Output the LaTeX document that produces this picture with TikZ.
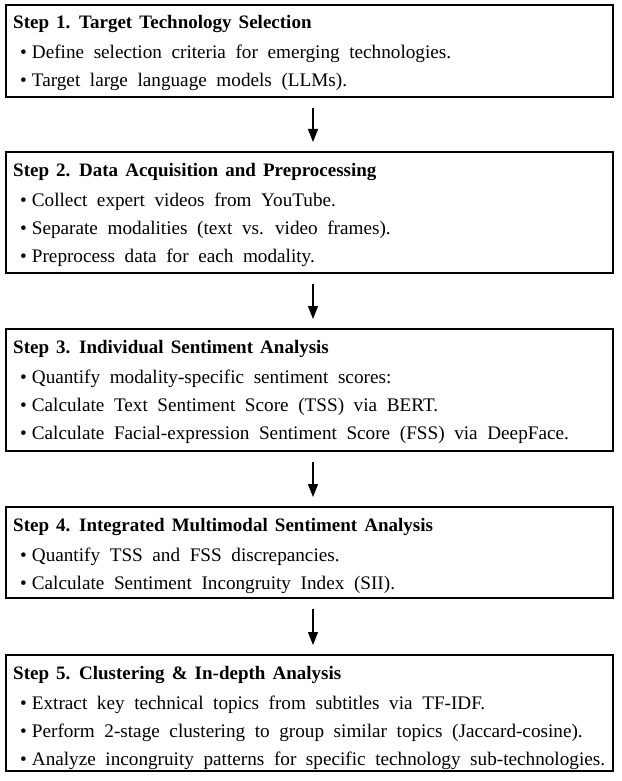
\documentclass[tikz,border=0pt]{standalone}
\usepackage{fontspec}
\setmainfont{Liberation Serif}[WordSpace=2.0,BoldFeatures={WordSpace=1.5}]
\usetikzlibrary{arrows.meta}
\begin{document}
\begin{tikzpicture}[x=1pt,y=-1pt,
  stepbox/.style={draw=black,line width=1.2pt,anchor=north west,minimum width=607pt,inner sep=0pt,outer sep=0pt},
  ttl/.style={anchor=base west,inner sep=0pt,font=\fontsize{19}{20}\selectfont\bfseries},
  itm/.style={anchor=base west,inner sep=0pt,font=\fontsize{19.2}{20}\selectfont},
  flow/.style={line width=1.2pt,-{Triangle[length=13pt,width=10pt]},shorten <=11pt,shorten >=10pt}]
\useasboundingbox (0,0) rectangle (621,781);
% boxes
\node[stepbox,minimum height=92pt] (s1) at (6,5) {};
\node[stepbox,minimum height=121pt] (s2) at (6,152) {};
\node[stepbox,minimum height=122pt] (s3) at (6,329) {};
\node[stepbox,minimum height=91pt] (s4) at (6,507) {};
\node[stepbox,minimum height=116pt] (s5) at (6,655) {};
% step 1
\node[ttl] (t1) at (13,29) {Step 1. Target Technology Selection};
\node[itm] (a11) at (20,59) {\textbullet\hspace{5pt}Define selection criteria for emerging technologies.};
\node[itm] (a12) at (20,87) {\textbullet\hspace{5pt}Target large language models (LLMs).};
% step 2
\node[ttl] (t2) at (13,176) {Step 2. Data Acquisition and Preprocessing};
\node[itm] (a21) at (20,206) {\textbullet\hspace{5pt}Collect expert videos from YouTube.};
\node[itm] (a22) at (20,234) {\textbullet\hspace{5pt}Separate modalities (text vs. video frames).};
\node[itm] (a23) at (20,262) {\textbullet\hspace{5pt}Preprocess data for each modality.};
% step 3
\node[ttl] (t3) at (13,353) {Step 3. Individual Sentiment Analysis};
\node[itm] (a31) at (20,383) {\textbullet\hspace{5pt}Quantify modality-specific sentiment scores:};
\node[itm] (a32) at (20,411) {\textbullet\hspace{5pt}Calculate Text Sentiment Score (TSS) via BERT.};
\node[itm] (a33) at (20,439) {\textbullet\hspace{5pt}Calculate Facial-expression Sentiment Score (FSS) via DeepFace.};
% step 4
\node[ttl] (t4) at (13,531) {Step 4. Integrated Multimodal Sentiment Analysis};
\node[itm] (a41) at (20,561) {\textbullet\hspace{5pt}Quantify TSS and FSS discrepancies.};
\node[itm] (a42) at (20,589) {\textbullet\hspace{5pt}Calculate Sentiment Incongruity Index (SII).};
% step 5
\node[ttl] (t5) at (13,679) {Step 5. Clustering \& In-depth Analysis};
\node[itm] (a51) at (20,709) {\textbullet\hspace{5pt}Extract key technical topics from subtitles via TF-IDF.};
\node[itm] (a52) at (20,737) {\textbullet\hspace{5pt}Perform 2-stage clustering to group similar topics (Jaccard-cosine).};
\node[itm] (a53) at (20,765) {\textbullet\hspace{5pt}Analyze incongruity patterns for specific technology sub-technologies.};
% arrows
\draw[flow] ([xshift=3.5pt]s1.south) -- ([xshift=3.5pt]s2.north);
\draw[flow] ([xshift=3.5pt]s2.south) -- ([xshift=3.5pt]s3.north);
\draw[flow] ([xshift=3.5pt]s3.south) -- ([xshift=3.5pt]s4.north);
\draw[flow] ([xshift=3.5pt]s4.south) -- ([xshift=3.5pt]s5.north);
\end{tikzpicture}
\end{document}
